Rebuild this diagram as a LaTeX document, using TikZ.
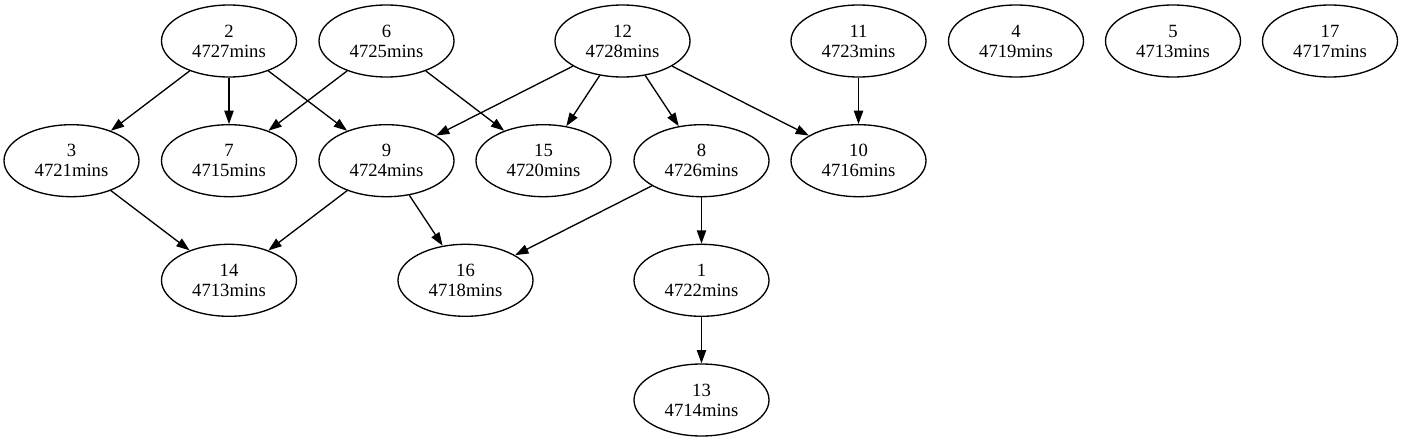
\documentclass[tikz,border=0pt]{standalone}
\usepackage{fontspec}
\setmainfont{Liberation Serif}
\usetikzlibrary{shapes.geometric,arrows.meta}
\begin{document}
\begin{tikzpicture}[x=1pt,y=-1pt,
  task/.style={ellipse,draw,line width=1.33pt,minimum width=135pt,minimum height=72pt,inner sep=0pt,align=center,font=\fontsize{18.67}{20}\selectfont},
  dep/.style={draw,line width=1.33pt,-{Triangle[length=13.3pt,width=9.3pt]}}]
\useasboundingbox (0,0) rectangle (1403,441);
\def\ra{41}\def\rb{160.7}\def\rc{280.3}\def\rd{400}
\node[task] (n2)  at (229,\ra)    {2\\4727mins};
\node[task] (n6)  at (386.5,\ra)  {6\\4725mins};
\node[task] (n12) at (622.5,\ra)  {12\\4728mins};
\node[task] (n11) at (858.5,\ra)  {11\\4723mins};
\node[task] (n4)  at (1016,\ra)   {4\\4719mins};
\node[task] (n5)  at (1173,\ra)   {5\\4713mins};
\node[task] (n17) at (1330,\ra)   {17\\4717mins};
\node[task] (n3)  at (71.5,\rb)   {3\\4721mins};
\node[task] (n7)  at (229,\rb)    {7\\4715mins};
\node[task] (n9)  at (386.5,\rb)  {9\\4724mins};
\node[task] (n15) at (543.5,\rb)  {15\\4720mins};
\node[task] (n8)  at (701.5,\rb)  {8\\4726mins};
\node[task] (n10) at (858.5,\rb)  {10\\4716mins};
\node[task] (n14) at (229,\rc)    {14\\4713mins};
\node[task] (n16) at (465.5,\rc)  {16\\4718mins};
\node[task] (n1)  at (701.5,\rc)  {1\\4722mins};
\node[task] (n13) at (701.5,\rd)  {13\\4714mins};
\draw[dep] (n2) -- (n3);
\draw[dep] (n2) -- (n7);
\draw[dep] (n2) -- (n9);
\draw[dep] (n6) -- (n7);
\draw[dep] (n6) -- (n15);
\draw[dep] (n12) -- (n9);
\draw[dep] (n12) -- (n15);
\draw[dep] (n12) -- (n8);
\draw[dep] (n12) -- (n10);
\draw[dep] (n11) -- (n10);
\draw[dep] (n3) -- (n14);
\draw[dep] (n9) -- (n14);
\draw[dep] (n9) -- (n16);
\draw[dep] (n8) -- (n16);
\draw[dep] (n8) -- (n1);
\draw[dep] (n1) -- (n13);
\end{tikzpicture}
\end{document}
